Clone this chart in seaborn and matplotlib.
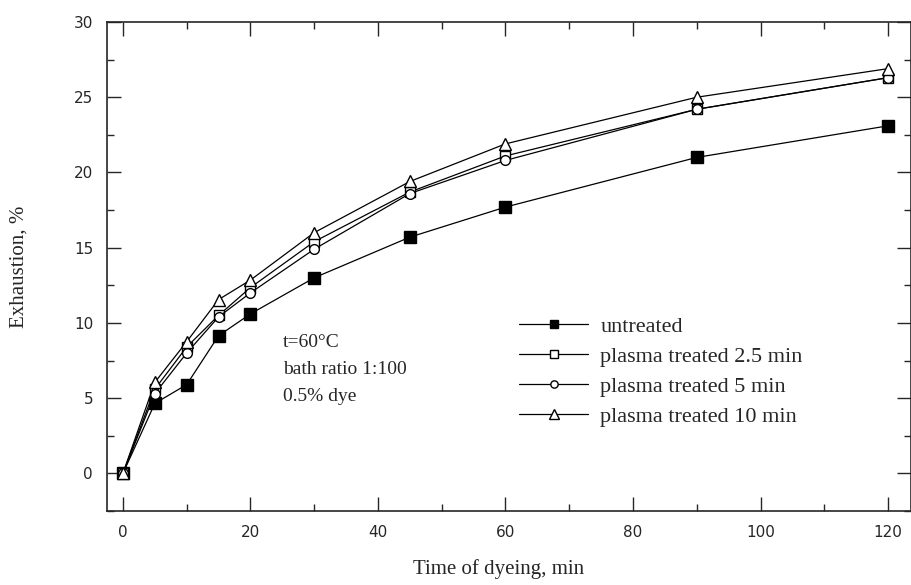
import numpy as np
import pandas as pd
import seaborn as sns
import matplotlib
matplotlib.use("Agg")
import matplotlib.pyplot as plt
from matplotlib.ticker import MultipleLocator

time_min = [0, 5, 10, 15, 20, 30, 45, 60, 90, 120]
untreated = [0, 4.65, 5.9, 9.15, 10.6, 13.0, 15.7, 17.7, 21.0, 23.1]
plasma_2_5 = [0, 5.6, 8.4, 10.5, 12.35, 15.4, 18.7, 21.1, 24.2, 26.3]
plasma_5 = [0, 5.3, 8.0, 10.4, 12.0, 14.9, 18.6, 20.8, 24.2, 26.3]
plasma_10 = [0, 6.05, 8.75, 11.55, 12.85, 16.0, 19.4, 21.9, 25.0, 26.9]

series_names = ["untreated", "plasma treated 2.5 min",
                "plasma treated 5 min", "plasma treated 10 min"]
series_values = [untreated, plasma_2_5, plasma_5, plasma_10]
markers = ["s", "s", "o", "^"]
facecolors = ["black", "white", "white", "white"]
sizes = [8, 7, 7, 9]

sns.set_style("ticks")
plt.rcParams["font.family"] = ["DejaVu Sans"]

fig = plt.figure(figsize=(9.12, 5.85), dpi=100)
ax = fig.add_axes([107 / 912, 1 - 511 / 585, (911 - 107) / 912, (511 - 22) / 585])

for name, vals, m, fc, ms in zip(series_names, series_values, markers, facecolors, sizes):
    df = pd.DataFrame({"t": time_min, "E": vals})
    sns.lineplot(data=df, x="t", y="E", ax=ax, color="black", lw=0.9,
                 marker=m, markersize=ms, markerfacecolor=fc,
                 markeredgecolor="black", markeredgewidth=1.0, label=name)

ax.set_xlim(-2.5, 123.6)
ax.set_ylim(-2.5, 30)
ax.xaxis.set_major_locator(MultipleLocator(20))
ax.xaxis.set_minor_locator(MultipleLocator(10))
ax.yaxis.set_major_locator(MultipleLocator(5))
ax.yaxis.set_minor_locator(MultipleLocator(2.5))
ax.tick_params(which="both", direction="in", top=True, right=True, width=1.0)
ax.tick_params(which="major", length=10, labelsize=11, pad=10)
ax.tick_params(which="minor", length=5)
for s in ax.spines.values():
    s.set_linewidth(1.2)
    s.set_visible(True)

serif = ["Liberation Serif", "DejaVu Serif"]
ax.set_xlabel("Time of dyeing, min", family=serif, fontsize=15)
ax.set_ylabel("Exhaustion, %", family=serif, fontsize=15)
ax.xaxis.set_label_coords(0.487, -0.098)
ax.yaxis.set_label_coords(-0.097, 0.5)

leg = ax.legend(loc="upper left", bbox_to_anchor=(0.5015, 0.416), frameon=False,
                prop={"family": serif, "size": 16}, handlelength=3.1,
                handletextpad=0.55, labelspacing=0.42, borderaxespad=0,
                markerscale=0.75)

ax.text(0.219, 0.362, "t=60°C\nbath ratio 1:100\n0.5% dye", transform=ax.transAxes,
        family=serif, fontsize=14, va="top", ha="left", linespacing=1.78)

fig.savefig("out.png", dpi=100)
